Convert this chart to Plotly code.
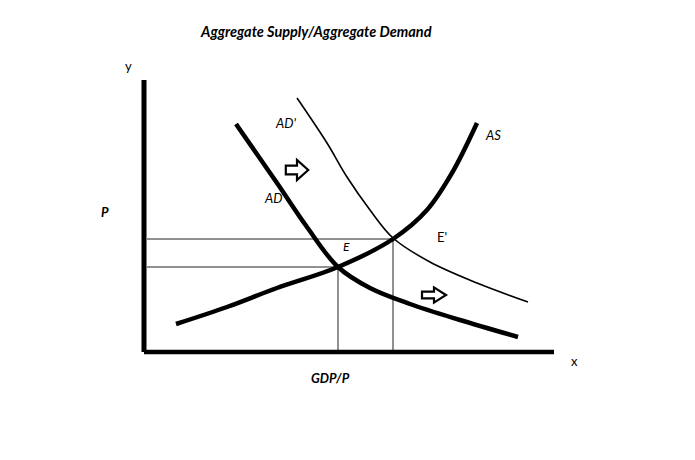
import plotly.graph_objects as go

# ---- data (Q = GDP/P units, P = price-level units) ----
AD_Q = [23, 33.25, 40.75, 48.5, 56.5, 66.5, 79, 93.5]
AD_P = [57, 42.25, 31.25, 21.25, 16, 12, 8, 3.75]

AD2_Q = [38.25, 45.75, 50.75, 56.5, 62.25, 71.5, 83.25, 96]
AD2_P = [63.5, 52.25, 43.75, 35.5, 28.5, 22.5, 17.25, 12.5]

AS_Q = [8, 20.75, 33.25, 48.5, 62.25, 70.75, 77, 83.25]
AS_P = [7, 11.25, 16, 21.25, 28.25, 35.5, 44.75, 57.25]

E_Q, E_P = 48.5, 21.25
E2_Q, E2_P = 62.25, 28.25

X_AXIS_END = 102.5
Y_AXIS_END = 68

TITLE = "Aggregate Supply/Aggregate Demand"

FONT = "Lato"

fig = go.Figure()

# guide lines
for q, p in [(E_Q, E_P), (E2_Q, E2_P)]:
    fig.add_trace(go.Scatter(x=[0.75, q], y=[p, p], mode="lines",
                             line=dict(color="#222222", width=1), hoverinfo="skip"))
    fig.add_trace(go.Scatter(x=[q, q], y=[p, 0], mode="lines",
                             line=dict(color="#222222", width=1), hoverinfo="skip"))

# axes
fig.add_trace(go.Scatter(x=[0, 0], y=[0, Y_AXIS_END], mode="lines",
                         line=dict(color="black", width=5), hoverinfo="skip"))
fig.add_trace(go.Scatter(x=[0, X_AXIS_END], y=[0, 0], mode="lines",
                         line=dict(color="black", width=4.5), hoverinfo="skip"))

# curves
fig.add_trace(go.Scatter(x=AD2_Q, y=AD2_P, mode="lines", line_shape="spline",
                         line=dict(color="black", width=1.6), hoverinfo="skip"))
fig.add_trace(go.Scatter(x=AD_Q, y=AD_P, mode="lines", line_shape="spline",
                         line=dict(color="black", width=4.5), hoverinfo="skip"))
fig.add_trace(go.Scatter(x=AS_Q, y=AS_P, mode="lines", line_shape="spline",
                         line=dict(color="black", width=4.5), hoverinfo="skip"))


def arrow_path(cx, cy, w, h):
    x0, x1, xm = cx - w / 2, cx + w / 2, cx
    y0, y1 = cy - h / 2, cy + h / 2
    s0, s1 = cy - h * 0.22, cy + h * 0.22
    pts = [(x0, s0), (xm, s0), (xm, y0), (x1, cy), (xm, y1), (xm, s1), (x0, s1)]
    return "M " + " L ".join(f"{a},{b}" for a, b in pts) + " Z"


fig.add_shape(type="path", path=arrow_path(38.25, 45.5, 5.6, 5.0),
              line=dict(color="black", width=2.2), fillcolor="white")
fig.add_shape(type="path", path=arrow_path(72.5, 14.25, 6.0, 3.8),
              line=dict(color="black", width=2.2), fillcolor="white")

labels = [
    ("y", -4, 71.5, False, False, 13),
    ("P", -9.75, 35, True, True, 13),
    ("AD'", 35.25, 57.25, False, True, 13),
    ("AD", 32.25, 38.5, False, True, 13),
    ("AS", 87.25, 54.25, False, True, 13),
    ("E", 50.5, 26.5, False, True, 12),
    ("E'", 74.5, 28.75, False, False, 13),
    ("x", 107.5, -2.25, False, False, 13),
    ("GDP/P", 46.5, -6.5, True, True, 13),
]
for t, x, y, bold, ital, size in labels:
    txt = t
    if bold:
        txt = f"<b>{txt}</b>"
    if ital:
        txt = f"<i>{txt}</i>"
    fig.add_annotation(x=x, y=y, text=txt, showarrow=False,
                       font=dict(family=FONT, size=size, color="black"),
                       xanchor="center", yanchor="middle")

# page body has an 8px margin, so offset paper coordinates accordingly
fig.add_annotation(x=308 / 695, y=1 - 23 / 460, xref="paper", yref="paper",
                   text=f"<b><i>{TITLE}</i></b>", showarrow=False,
                   font=dict(family=FONT, size=14.5, color="black"),
                   xanchor="center", yanchor="middle")

fig.update_layout(
    width=695, height=460,
    margin=dict(l=0, r=0, t=0, b=0),
    paper_bgcolor="white", plot_bgcolor="white",
    showlegend=False,
    xaxis=dict(range=[-34, 139.75], visible=False, fixedrange=True),
    yaxis=dict(range=[-29, 86], visible=False, fixedrange=True),
)

fig.write_html("out.html")
